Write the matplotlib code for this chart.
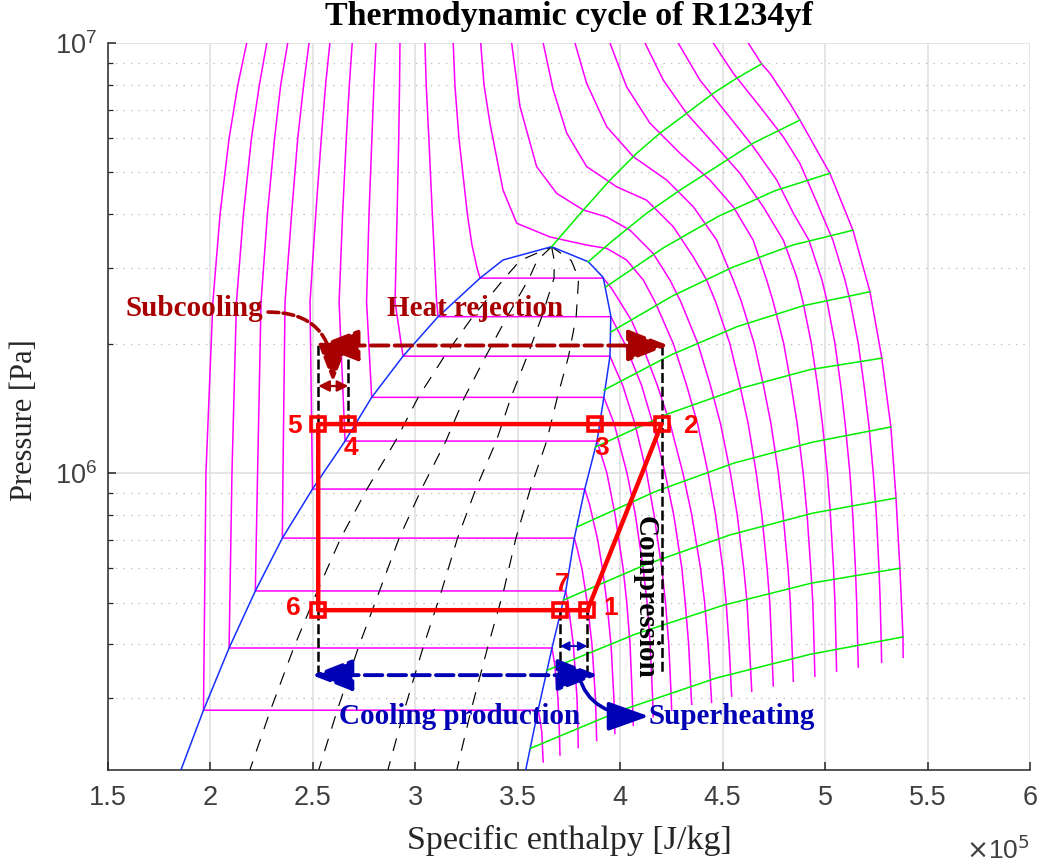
import numpy as np
import matplotlib
matplotlib.use('Agg')
import matplotlib.pyplot as plt
from matplotlib.ticker import FixedLocator, FuncFormatter, LogLocator, NullFormatter

# ---------------- DATA (h in 1e5 J/kg, P in MPa) ----------------
sat_liq = [(1.849, 0.200), (1.966, 0.281), (2.091, 0.392), (2.219, 0.532), (2.351, 0.706),
           (2.498, 0.918), (2.657, 1.187), (2.787, 1.50), (2.940, 1.87), (3.111, 2.31),
           (3.316, 2.84), (3.428, 3.13), (3.665, 3.36)]
sat_vap = [(3.665, 3.36), (3.844, 3.10), (3.917, 2.85), (3.954, 2.32), (3.950, 1.87),
           (3.920, 1.50), (3.887, 1.187), (3.827, 0.918), (3.776, 0.706), (3.734, 0.532),
           (3.667, 0.392), (3.599, 0.281), (3.535, 0.200)]

# constant-quality lines (x = 0.2, 0.4, 0.6, 0.8)
q_p = [0.200, 0.281, 0.392, 0.532, 0.706, 0.918, 1.187, 1.50, 1.87, 2.31, 2.84, 3.12, 3.36]
q20_h = [2.186, 2.293, 2.406, 2.522, 2.636, 2.764, 2.903, 3.014, 3.142, 3.280, 3.436, 3.511, 3.665]
q40_h = [2.523, 2.619, 2.721, 2.825, 2.921, 3.030, 3.149, 3.240, 3.344, 3.448, 3.556, 3.594, 3.665]
q60_h = [2.861, 2.946, 3.037, 3.128, 3.206, 3.295, 3.395, 3.467, 3.546, 3.617, 3.677, 3.678, 3.665]
q80_h = [3.198, 3.272, 3.352, 3.431, 3.491, 3.561, 3.641, 3.693, 3.748, 3.785, 3.797, 3.761, 3.665]

# isotherms
T01 = [(2.177, 10.0), (2.134, 8.0), (2.091, 6.0), (2.047, 4.0), (2.012, 2.5), (1.978, 1.0), (1.966, 0.281),
       (3.599, 0.281), (3.607, 0.27), (3.617, 0.25), (3.624, 0.213)]
T02 = [(2.275, 10.0), (2.239, 8.0), (2.200, 6.0), (2.161, 4.0), (2.127, 2.5), (2.105, 1.0), (2.091, 0.392),
       (3.667, 0.392), (3.680, 0.36), (3.696, 0.30), (3.703, 0.25), (3.706, 0.221)]
T03 = [(2.377, 10.0), (2.343, 8.0), (2.313, 6.0), (2.278, 4.0), (2.247, 2.5), (2.230, 1.0), (2.219, 0.532),
       (3.734, 0.532), (3.745, 0.50), (3.771, 0.40), (3.789, 0.30), (3.794, 0.25), (3.795, 0.230)]
T04 = [(2.481, 10.0), (2.455, 8.0), (2.426, 6.0), (2.396, 4.0), (2.364, 2.5), (2.354, 1.0), (2.351, 0.706),
       (3.776, 0.706), (3.789, 0.67), (3.813, 0.60), (3.839, 0.50), (3.862, 0.40), (3.879, 0.30),
       (3.884, 0.25), (3.885, 0.239)]
T05 = [(2.583, 10.0), (2.562, 8.0), (2.541, 6.0), (2.514, 4.0), (2.486, 2.5), (2.498, 0.918),
       (3.827, 0.918), (3.849, 0.85), (3.890, 0.70), (3.913, 0.60), (3.935, 0.50), (3.955, 0.40),
       (3.969, 0.30), (3.974, 0.248)]
T06 = [(2.692, 10.0), (2.678, 8.0), (2.663, 6.0), (2.645, 4.0), (2.628, 2.5), (2.657, 1.187),
       (3.887, 1.187), (3.908, 1.10), (3.935, 1.00), (3.975, 0.80), (4.014, 0.60), (4.032, 0.50),
       (4.048, 0.40), (4.059, 0.30), (4.064, 0.259)]
T07 = [(2.808, 10.0), (2.798, 8.0), (2.788, 6.0), (2.774, 4.0), (2.762, 2.5), (2.787, 1.50),
       (3.920, 1.50), (3.945, 1.40), (3.971, 1.30), (4.033, 1.00), (4.074, 0.80), (4.112, 0.60),
       (4.131, 0.50), (4.146, 0.40), (4.158, 0.30), (4.161, 0.271)]
T08 = [(2.925, 10.0), (2.923, 8.0), (2.919, 6.0), (2.911, 4.0), (2.901, 2.5), (2.940, 1.87),
       (3.950, 1.87), (3.976, 1.75), (4.012, 1.60), (4.072, 1.30), (4.129, 1.00), (4.165, 0.80),
       (4.203, 0.60), (4.221, 0.50), (4.237, 0.40), (4.249, 0.30), (4.251, 0.281)]
T09 = [(3.047, 10.0), (3.053, 8.0), (3.066, 6.0), (3.083, 4.0), (3.104, 2.5), (3.111, 2.31),
       (3.954, 2.31), (3.988, 2.15), (4.022, 2.00), (4.104, 1.60), (4.160, 1.30), (4.219, 1.00),
       (4.261, 0.80), (4.301, 0.60), (4.317, 0.50), (4.334, 0.40), (4.347, 0.30), (4.349, 0.290)]
T10 = [(3.185, 10.0), (3.193, 8.0), (3.213, 6.0), (3.254, 4.0), (3.276, 3.4), (3.301, 3.0), (3.316, 2.84),
       (3.917, 2.84), (3.955, 2.70), (3.999, 2.50), (4.058, 2.25), (4.104, 2.00), (4.181, 1.60),
       (4.244, 1.30), (4.306, 1.00), (4.349, 0.80), (4.392, 0.60), (4.412, 0.50), (4.429, 0.40),
       (4.445, 0.30), (4.446, 0.293)]
T11 = [(3.319, 10.0), (3.335, 8.0), (3.364, 6.52), (3.428, 4.55), (3.495, 3.81), (3.657, 3.54),
       (3.836, 3.39), (3.934, 3.33), (4.031, 3.13), (4.113, 2.81), (4.170, 2.50), (4.259, 2.00),
       (4.324, 1.60), (4.378, 1.30), (4.429, 1.00), (4.465, 0.80), (4.501, 0.60), (4.517, 0.50),
       (4.531, 0.40), (4.544, 0.303)]
T12 = [(3.470, 10.0), (3.511, 7.11), (3.592, 5.16), (3.690, 4.47), (3.820, 4.09), (3.934, 3.94),
       (4.048, 3.67), (4.161, 3.24), (4.243, 2.81), (4.296, 2.50), (4.379, 2.00), (4.440, 1.60),
       (4.490, 1.30), (4.538, 1.00), (4.571, 0.80), (4.603, 0.60), (4.619, 0.50), (4.630, 0.40),
       (4.642, 0.311)]
T13 = [(3.624, 10.0), (3.673, 7.78), (3.739, 6.17), (3.836, 5.16), (3.983, 4.63), (4.129, 4.31),
       (4.259, 3.74), (4.357, 3.18), (4.422, 2.81), (4.466, 2.50), (4.535, 2.00), (4.584, 1.60),
       (4.625, 1.30), (4.664, 1.00), (4.691, 0.80), (4.717, 0.60), (4.730, 0.50), (4.739, 0.40),
       (4.747, 0.320)]
T14 = [(3.779, 10.0), (3.836, 8.06), (3.934, 6.39), (4.064, 5.44), (4.227, 4.80), (4.357, 4.16),
       (4.471, 3.48), (4.552, 2.81), (4.592, 2.50), (4.654, 2.00), (4.699, 1.60), (4.736, 1.30),
       (4.772, 1.00), (4.795, 0.80), (4.819, 0.60), (4.830, 0.50), (4.838, 0.40), (4.845, 0.328)]
T15 = [(3.950, 10.0), (4.031, 7.91), (4.145, 6.51), (4.292, 5.54), (4.438, 4.80), (4.552, 4.16),
       (4.649, 3.48), (4.715, 2.81), (4.747, 2.50), (4.798, 2.00), (4.834, 1.60), (4.864, 1.30),
       (4.893, 1.00), (4.912, 0.80), (4.930, 0.60), (4.940, 0.50), (4.946, 0.40), (4.950, 0.337)]
T16 = [(4.121, 10.0), (4.210, 8.20), (4.324, 6.86), (4.454, 5.85), (4.584, 4.98), (4.698, 4.16),
       (4.796, 3.48), (4.861, 2.86), (4.892, 2.50), (4.933, 2.00), (4.963, 1.60), (4.987, 1.30),
       (5.011, 1.00), (5.026, 0.80), (5.041, 0.60), (5.048, 0.50), (5.053, 0.40), (5.056, 0.346)]
T17 = [(4.283, 10.0), (4.389, 8.20), (4.520, 6.86), (4.649, 5.74), (4.764, 4.80), (4.845, 4.02),
       (4.921, 3.48), (4.985, 2.81), (5.010, 2.50), (5.048, 2.00), (5.076, 1.60), (5.098, 1.30),
       (5.121, 1.00), (5.135, 0.80), (5.148, 0.60), (5.154, 0.50), (5.159, 0.40), (5.162, 0.354)]
T18 = [(4.454, 10.0), (4.552, 8.50), (4.682, 7.11), (4.796, 6.05), (4.877, 5.25), (4.955, 4.31),
       (5.038, 3.48), (5.097, 2.81), (5.123, 2.50), (5.162, 2.00), (5.190, 1.60), (5.213, 1.30),
       (5.235, 1.00), (5.250, 0.80), (5.263, 0.60), (5.269, 0.50), (5.274, 0.40), (5.276, 0.363)]
T19 = [(4.625, 10.0), (4.690, 8.94), (4.731, 8.50), (4.828, 7.24), (4.877, 6.62), (5.023, 4.98),
       (5.136, 3.67), (5.219, 2.64), (5.276, 1.86), (5.321, 1.28), (5.346, 0.875), (5.365, 0.601),
       (5.380, 0.416), (5.381, 0.373)]

# isentropes
S01 = [(3.665, 3.36), (3.820, 4.09), (3.950, 4.80), (4.080, 5.54), (4.194, 6.17), (4.324, 6.86),
       (4.454, 7.64), (4.568, 8.28), (4.690, 8.94)]
S02 = [(3.844, 3.10), (3.966, 3.48), (4.129, 4.02), (4.292, 4.55), (4.471, 5.16), (4.649, 5.85), (4.877, 6.62)]
S03 = [(3.930, 2.71), (4.211, 3.34), (4.482, 3.96), (4.753, 4.53), (5.024, 4.98)]
S04 = [(3.955, 2.13), (4.254, 2.58), (4.548, 3.01), (4.842, 3.39), (5.136, 3.67)]
S05 = [(3.921, 1.56), (4.245, 1.88), (4.570, 2.19), (4.894, 2.45), (5.219, 2.64)]
S06 = [(3.879, 1.15), (4.227, 1.37), (4.578, 1.57), (4.926, 1.74), (5.276, 1.85)]
S07 = [(3.787, 0.749), (4.172, 0.906), (4.555, 1.055), (4.938, 1.18), (5.321, 1.28)]
S08 = [(3.724, 0.507), (4.129, 0.614), (4.535, 0.718), (4.940, 0.807), (5.346, 0.875)]
S09 = [(3.643, 0.348), (4.073, 0.422), (4.504, 0.493), (4.935, 0.555), (5.365, 0.601)]
S10 = [(3.561, 0.229), (4.016, 0.282), (4.471, 0.334), (4.927, 0.379), (5.381, 0.416)]

# refrigeration cycle state points 1..7
cycle_labels = ['1', '2', '3', '4', '5', '6', '7']
cycle_h = [3.840, 4.202, 3.877, 2.673, 2.526, 2.526, 3.706]
cycle_p = [0.480, 1.30, 1.30, 1.30, 1.30, 0.480, 0.480]
cycle_order = [0, 1, 2, 3, 4, 5, 6, 0]

# annotation levels (MPa)
p_heat_arrow = 1.98
p_subcool_arrow = 1.594
p_superheat_arrow = 0.396
p_cooling_arrow = 0.339
p_guide_low = 0.343

xticks_e5 = [1.5, 2, 2.5, 3, 3.5, 4, 4.5, 5, 5.5, 6]

# ---------------- STYLE ----------------
SERIF = ['Liberation Serif', 'DejaVu Serif']
SANS = ['Liberation Sans', 'DejaVu Sans']
DARKRED = '#A80000'
DBLUE = '#0000B4'
MAG = '#FF00FF'
GREEN = '#00F000'


def xy(lst):
    a = np.asarray(lst, dtype=float)
    return a[:, 0] * 1e5, a[:, 1] * 1e6


fig = plt.figure(figsize=(10.43, 8.66), dpi=100)
ax = fig.add_axes([108 / 1043, 1 - 770 / 866, (1030 - 108) / 1043, (770 - 43) / 866])
ax.set_yscale('log')
ax.set_xlim(1.5e5, 6e5)
ax.set_ylim(2.04e5, 1e7)

ax.xaxis.set_major_locator(FixedLocator([v * 1e5 for v in xticks_e5]))
ax.xaxis.set_major_formatter(FuncFormatter(lambda v, p: f'{v / 1e5:g}'))
ax.yaxis.set_major_locator(FixedLocator([1e6, 1e7]))
ax.yaxis.set_minor_locator(LogLocator(base=10, subs=np.arange(2, 10)))
ax.yaxis.set_minor_formatter(NullFormatter())
ax.grid(True, which='major', color='#dedede', lw=1.1)
ax.grid(True, which='minor', axis='y', color='#b8b8b8', lw=0.9, linestyle=(0, (1, 5)))
ax.set_axisbelow(True)
for s in ['top', 'right']:
    ax.spines[s].set_visible(False)
for s in ['left', 'bottom']:
    ax.spines[s].set_color('#262626')
    ax.spines[s].set_linewidth(1.1)
ax.tick_params(which='both', direction='in', color='#262626', labelcolor='#404040', labelsize=19.5)
ax.tick_params(which='major', length=6, width=1.1)
ax.tick_params(which='minor', length=3.5, width=0.9)
ax.tick_params(axis='x', pad=11)
ax.tick_params(axis='y', pad=8)
for lab in ax.get_xticklabels() + ax.get_yticklabels():
    lab.set_family(SANS)

# isotherms
for T in [T01, T02, T03, T04, T05, T06, T07, T08, T09, T10,
          T11, T12, T13, T14, T15, T16, T17, T18, T19]:
    hx, py = xy(T)
    ax.plot(hx, py, color=MAG, lw=1.1, zorder=2)

# quality lines
for qh in [q20_h, q40_h, q60_h, q80_h]:
    ax.plot(np.asarray(qh) * 1e5, np.asarray(q_p) * 1e6, color='black', lw=0.85,
            dashes=(11, 9), zorder=2.5)

# saturation dome
for d in [sat_liq, sat_vap]:
    hx, py = xy(d)
    ax.plot(hx, py, color='#1530FF', lw=1.1, zorder=3)

# isentropes
for S in [S01, S02, S03, S04, S05, S06, S07, S08, S09, S10]:
    hx, py = xy(S)
    ax.plot(hx, py, color=GREEN, lw=1.1, zorder=3.5)

H = np.asarray(cycle_h) * 1e5
P = np.asarray(cycle_p) * 1e6

# black dashed guide lines
gkw = dict(color='black', lw=1.8, dashes=(4, 1.5), zorder=4)
ax.plot([H[4], H[4]], [P[4], p_heat_arrow * 1e6], **gkw)
ax.plot([H[3], H[3]], [P[3], p_heat_arrow * 1e6], **gkw)
ax.plot([H[1], H[1]], [p_heat_arrow * 1e6, p_guide_low * 1e6], **gkw)
ax.plot([H[5], H[5]], [P[5], p_guide_low * 1e6], **gkw)
ax.plot([H[6], H[6]], [P[6], p_guide_low * 1e6], **gkw)
ax.plot([H[0], H[0]], [P[0], p_guide_low * 1e6], **gkw)

# cycle
ax.plot(H[cycle_order], P[cycle_order], color='red', lw=3.2, zorder=5)
ax.plot(H, P, ls='none', marker='s', ms=9.5, mfc='none', mec='red', mew=2.6, zorder=5.5)

# point labels
offs = {'1': (17, 1.5), '2': (21, -1.5), '3': (4.5, -17.5), '4': (2, -17.5),
        '5': (-17, -1.5), '6': (-18, 1.5), '7': (1.5, 18.5)}
for i, lab in enumerate(cycle_labels):
    ax.annotate(lab, (H[i], P[i]), xytext=offs[lab], textcoords='offset points',
                ha='center', va='center', color='red', fontsize=19, fontweight='bold',
                family=SANS, zorder=7)


def harrow(x0, x1, p, color, lw, ls, hl, hw, ms):
    ax.annotate('', xy=(x1, p), xytext=(x0, p),
                arrowprops=dict(arrowstyle=f'<|-|>,head_length={hl},head_width={hw}',
                                mutation_scale=ms, lw=lw, linestyle=ls, color=color,
                                shrinkA=0, shrinkB=0), zorder=6)


# heat rejection arrow
harrow(H[4], 4.235e5, p_heat_arrow * 1e6, DARKRED, 2.8, (0, (4.5, 1.6)), 1.4, 0.55, 18)
# cooling production arrow
harrow(2.496e5, 3.891e5, p_cooling_arrow * 1e6, DBLUE, 2.8, (0, (4.5, 1.6)), 1.4, 0.55, 18)
# subcooling / superheating small double arrows
harrow(H[4], H[3], p_subcool_arrow * 1e6, DARKRED, 1.6, '-', 1.1, 0.55, 6)
harrow(H[6], H[0], p_superheat_arrow * 1e6, DBLUE, 1.3, '-', 1.1, 0.55, 5)

# curved arrows
ax.annotate('', xy=(2.598e5, 1.628e6), xytext=(2.281e5, 2.368e6),
            arrowprops=dict(arrowstyle='-|>,head_length=1.3,head_width=0.5', mutation_scale=18,
                            lw=2.6, linestyle=(0, (3, 1.2)), color=DARKRED,
                            connectionstyle='angle3,angleA=0,angleB=90', shrinkA=0, shrinkB=0),
            zorder=6)
ax.annotate('', xy=(4.140e5, 0.272e6), xytext=(3.799e5, 0.337e6),
            arrowprops=dict(arrowstyle='-|>,head_length=1.4,head_width=0.5', mutation_scale=18,
                            lw=2.6, color=DBLUE,
                            connectionstyle='angle3,angleA=-75,angleB=0', shrinkA=0, shrinkB=0),
            zorder=6)

# annotation texts
tkw = dict(family=SERIF, fontweight='bold', fontsize=21, ha='center', va='center', zorder=7)
ax.text(1.920e5, 2.42e6, 'Subcooling', color=DARKRED, **tkw)
ax.text(3.291e5, 2.42e6, 'Heat rejection', color=DARKRED, **tkw)
ax.text(4.120e5, 0.515e6, 'Compression', color='black', rotation=-90, **tkw)
ax.text(3.218e5, 0.272e6, 'Cooling production', color=DBLUE, **tkw)
ax.text(4.545e5, 0.272e6, 'Superheating', color=DBLUE, **tkw)

# titles / labels
fig.text(569 / 1043, 1 - 16 / 866, 'Thermodynamic cycle of R1234yf', ha='center', va='center',
         family=SERIF, fontweight='bold', fontsize=24.5, color='black')
fig.text(569 / 1043, 1 - 840 / 866, 'Specific enthalpy [J/kg]', ha='center', va='center',
         family=SERIF, fontsize=24.5, color='#262626')
fig.text(25 / 1043, 1 - 420 / 866, 'Pressure [Pa]', ha='center', va='center', rotation=90,
         family=SERIF, fontsize=22, color='#262626')
fig.text(1030 / 1043, 1 - 850 / 866, r'$\times$10$^{5}$', ha='right', va='center',
         family=SANS, fontsize=19, color='#404040')

fig.savefig('out.png', dpi=100)
